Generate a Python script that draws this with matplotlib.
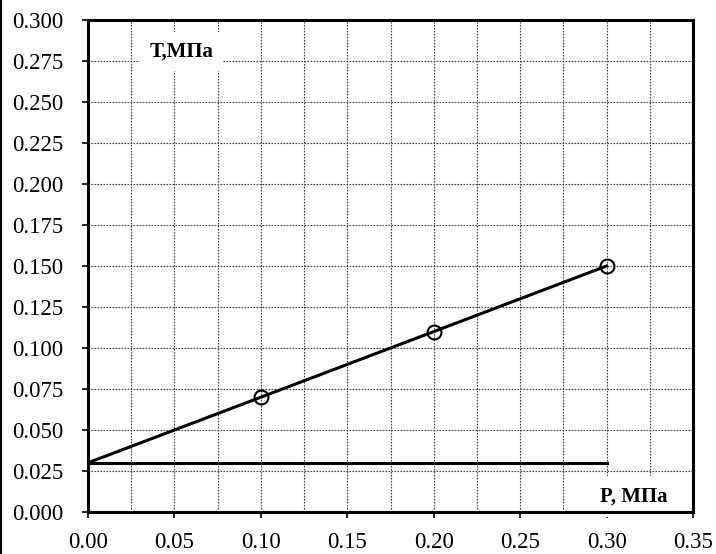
import matplotlib
matplotlib.use("Agg")
import matplotlib.pyplot as plt
from matplotlib.ticker import MultipleLocator, FormatStrFormatter
from matplotlib.lines import Line2D

plt.rcParams['font.family'] = ['Liberation Serif', 'DejaVu Serif']

# Normal stress vs. shear stress measurements
p_values = [0.10, 0.20, 0.30]
t_values = [0.07, 0.11, 0.15]
# Fitted line: T = c + tan(phi) * P
fit_p = [0.0, 0.30]
fit_t = [0.03, 0.15]
cohesion_p = [0.0, 0.30]
cohesion_t = [0.03, 0.03]

fig = plt.figure(figsize=(7.16, 5.54), dpi=100)
ax = fig.add_axes([88 / 716, 1 - 512 / 554, (693 - 88) / 716, (512 - 20) / 554])

ax.set_xlim(0, 0.35)
ax.set_ylim(0, 0.30)
ax.xaxis.set_major_locator(MultipleLocator(0.05))
ax.xaxis.set_minor_locator(MultipleLocator(0.025))
ax.yaxis.set_major_locator(MultipleLocator(0.025))
ax.xaxis.set_major_formatter(FormatStrFormatter('%.2f'))
ax.yaxis.set_major_formatter(FormatStrFormatter('%.3f'))

ax.grid(True, which='both', axis='x', color='#444444', linestyle=(0, (1.5, 1.2)), linewidth=0.8)
ax.grid(True, which='major', axis='y', color='#444444', linestyle=(0, (1.5, 1.2)), linewidth=0.8)
ax.set_axisbelow(True)

ax.tick_params(axis='both', which='major', direction='out', length=4.5, width=1.2,
               labelsize=16.5, color='black')
ax.tick_params(axis='y', which='major', pad=13)
ax.tick_params(axis='x', which='major', pad=10)
ax.tick_params(axis='x', which='minor', length=0)
for s in ax.spines.values():
    s.set_linewidth(2.2)
    s.set_color('black')

ax.plot(cohesion_p, cohesion_t, color='black', linewidth=2.2, zorder=3)
ax.plot(fit_p, fit_t, color='black', linewidth=2.2, zorder=3)
ax.plot(p_values, t_values, linestyle='none', marker='o', markersize=10,
        markerfacecolor='none', markeredgecolor='black', markeredgewidth=1.5, zorder=4)

ax.text(0.054, 0.281, 'T,МПа', fontsize=15, fontweight='bold', ha='center', va='center',
        bbox=dict(boxstyle='square,pad=0.45', facecolor='white', edgecolor='none'), zorder=2.5)
ax.text(0.316, 0.0095, 'P, МПа', fontsize=15, fontweight='bold', ha='center', va='center',
        bbox=dict(boxstyle='square,pad=0.5', facecolor='white', edgecolor='none'), zorder=2.5)

fig.add_artist(Line2D([0.001, 0.001], [0, 1], transform=fig.transFigure, color='black', linewidth=1.5))

fig.savefig('out.png', dpi=100)
